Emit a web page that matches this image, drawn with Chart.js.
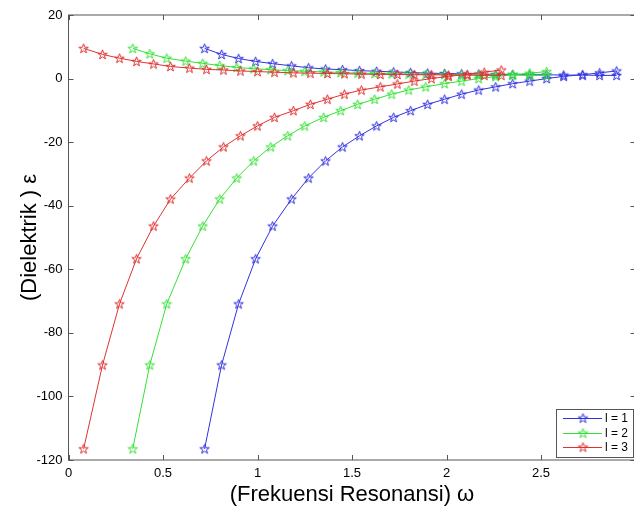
<!DOCTYPE html>
<html>
<head>
<meta charset="utf-8">
<script src="https://cdn.jsdelivr.net/npm/chart.js@4/dist/chart.umd.min.js"></script>
<style>
html,body{margin:0;padding:0;background:#fff;overflow:hidden;}
#wrap{position:relative;width:660px;height:506px;}
</style>
</head>
<body>
<div id="wrap"><canvas id="chart"></canvas></div>
<script>
// frequency values (omega) for each l
const omega1=[0.72,0.81,0.90,0.99,1.08,1.18,1.27,1.36,1.45,1.54,1.63,1.72,1.81,1.90,1.99,2.08,2.17,2.26,2.35,2.44,2.53,2.62,2.72,2.81,2.90];
const omega2=[0.34,0.43,0.52,0.62,0.71,0.80,0.89,0.98,1.07,1.16,1.25,1.35,1.44,1.53,1.62,1.71,1.80,1.89,1.99,2.08,2.17,2.26,2.35,2.44,2.53];
const omega3=[0.08,0.18,0.27,0.36,0.45,0.54,0.64,0.73,0.82,0.91,1.00,1.09,1.19,1.28,1.37,1.46,1.55,1.65,1.74,1.83,1.92,2.01,2.11,2.20,2.29];

// lower (negative) branch of epsilon
const epsLow1=[-116.5,-90.1,-70.9,-56.7,-46.4,-37.9,-31.3,-25.9,-21.5,-18.0,-14.9,-12.2,-10.1,-8.1,-6.5,-4.9,-3.6,-2.6,-1.6,-0.8,0.0,0.7,1.2,1.8,2.4];
const epsLow2=[-116.5,-90.1,-70.9,-56.7,-46.4,-37.9,-31.3,-25.9,-21.5,-18.0,-14.9,-12.2,-10.1,-8.1,-6.5,-4.9,-3.6,-2.6,-1.6,-0.8,0.0,0.6,1.2,1.7,2.2];
const epsLow3=[-116.5,-90.1,-70.9,-56.7,-46.4,-37.9,-31.3,-25.9,-21.5,-18.0,-14.9,-12.2,-10.1,-8.1,-6.5,-4.9,-3.6,-2.6,-1.7,-0.8,0.0,0.7,1.3,2.0,2.7];

// upper (positive) branch of epsilon
const epsUp1=[9.5,7.6,6.3,5.4,4.7,4.0,3.4,3.0,2.8,2.5,2.3,2.1,1.9,1.7,1.6,1.5,1.4,1.3,1.3,1.2,1.2,1.1,1.1,1.0,1.0];
const epsUp2=[9.5,7.8,6.4,5.5,4.8,4.1,3.5,3.1,2.8,2.5,2.3,2.1,1.9,1.7,1.6,1.5,1.4,1.3,1.3,1.2,1.2,1.1,1.1,1.0,1.0];
const epsUp3=[9.5,7.6,6.4,5.4,4.6,3.8,3.3,2.9,2.7,2.4,2.2,2.0,1.8,1.7,1.6,1.5,1.4,1.3,1.3,1.2,1.2,1.1,1.1,1.0,1.0];

const seriesLabels=['l = 1','l = 2','l = 3'];
const xTickValues=[0,0.5,1,1.5,2,2.5,3];
const yTickValues=[20,0,-20,-40,-60,-80,-100,-120];

const colors=['#3232e0','#36e036','#e03232'];
const FONT='"Liberation Sans", Arial, sans-serif';

function starImg(color){
  const c=document.createElement('canvas');
  c.width=13;c.height=13;
  const g=c.getContext('2d');
  const R=5.0,r=R*0.40,cx=6.5,cy=6.9;
  g.beginPath();
  for(let i=0;i<10;i++){
    const a=-Math.PI/2+i*Math.PI/5;
    const rr=i%2?r:R;
    const px=cx+rr*Math.cos(a),py=cy+rr*Math.sin(a);
    i?g.lineTo(px,py):g.moveTo(px,py);
  }
  g.closePath();
  g.strokeStyle=color;g.lineWidth=1;g.stroke();
  return c;
}
const stars=colors.map(starImg);

function pts(xs,ys){return xs.map((x,i)=>({x:x,y:ys[i]}));}

const omegas=[omega1,omega2,omega3];
const lows=[epsLow1,epsLow2,epsLow3];
const ups=[epsUp1,epsUp2,epsUp3];

const datasets=[];
for(let k=0;k<3;k++){
  const base={borderColor:colors[k],backgroundColor:colors[k],borderWidth:1,
    pointStyle:stars[k],pointRadius:4,tension:0,order:3-k,showLine:true};
  datasets.push(Object.assign({label:seriesLabels[k],data:pts(omegas[k],lows[k]),legendIdx:k},base));
  datasets.push(Object.assign({label:'',data:pts(omegas[k],ups[k])},base));
}

// matlab style box with inward ticks
const frame={
  id:'frame',
  afterDatasetsDraw(chart){
    const {ctx,chartArea:a,scales:{x,y}}=chart;
    ctx.save();
    ctx.strokeStyle='#555';ctx.lineWidth=1;
    ctx.strokeRect(a.left,a.top,a.right-a.left,a.bottom-a.top);
    ctx.beginPath();
    xTickValues.forEach(v=>{
      const px=Math.round(x.getPixelForValue(v))+0.5;
      ctx.moveTo(px,a.bottom);ctx.lineTo(px,a.bottom-5);
      ctx.moveTo(px,a.top);ctx.lineTo(px,a.top+5);
    });
    yTickValues.forEach(v=>{
      const py=Math.round(y.getPixelForValue(v))+0.5;
      ctx.moveTo(a.left,py);ctx.lineTo(a.left+5,py);
      ctx.moveTo(a.right,py);ctx.lineTo(a.right-5,py);
    });
    ctx.stroke();
    ctx.restore();
  }
};

const boxLegend={
  id:'boxLegend',
  afterDraw(chart){
    const {ctx,chartArea:a}=chart;
    const w=77,h=48;
    const left=a.right-2.5-w,top=a.bottom-3-h;
    ctx.save();
    ctx.fillStyle='#fff';
    ctx.fillRect(left,top,w,h);
    ctx.strokeStyle='#555';ctx.lineWidth=1;
    ctx.strokeRect(Math.round(left)+0.5,Math.round(top)+0.5,w,h);
    ctx.font='12px '+FONT;
    ctx.textBaseline='middle';ctx.fillStyle='#000';
    chart.data.datasets.filter(d=>d.legendIdx!==undefined).forEach(d=>{
      const k=d.legendIdx;
      const yy=Math.round(top+9+k*14.5)+0.5;
      ctx.strokeStyle=d.borderColor;
      ctx.beginPath();ctx.moveTo(left+7,yy);ctx.lineTo(left+46,yy);ctx.stroke();
      ctx.drawImage(d.pointStyle,left+27-6.5,yy-6.9);
      ctx.fillText(d.label,left+49,yy+0.5);
    });
    ctx.restore();
  }
};

new Chart(document.getElementById('chart'),{
  type:'line',
  data:{datasets:datasets},
  options:{
    responsive:true,maintainAspectRatio:false,animation:false,
    layout:{padding:{top:15,right:24.5,bottom:0,left:0}},
    plugins:{legend:{display:false},tooltip:{enabled:false}},
    scales:{
      x:{type:'linear',min:0,max:3,
        afterBuildTicks(s){s.ticks=xTickValues.map(v=>({value:v}));},
        afterFit(s){s.height=46;},
        grid:{display:false,drawTicks:false},border:{display:false},
        ticks:{padding:6,color:'#000',font:{family:FONT,size:13},
          maxRotation:0,callback:v=>v===3?'':String(v)},
        title:{display:true,text:'(Frekuensi Resonansi) \u03c9',color:'#000',
          font:{family:FONT,size:22,lineHeight:1},padding:{top:0,bottom:0}}
      },
      y:{type:'linear',min:-120,max:20,
        afterBuildTicks(s){s.ticks=yTickValues.map(v=>({value:v}));},
        afterFit(s){s.width=68.5;},
        grid:{display:false,drawTicks:false},border:{display:false},
        ticks:{padding:6,color:'#000',font:{family:FONT,size:13}},
        title:{display:true,text:'(Dielektrik ) \u03b5',color:'#000',
          font:{family:FONT,size:22,lineHeight:1},padding:{top:19,bottom:0}}
      }
    }
  },
  plugins:[frame,boxLegend]
});
</script>
</body>
</html>
